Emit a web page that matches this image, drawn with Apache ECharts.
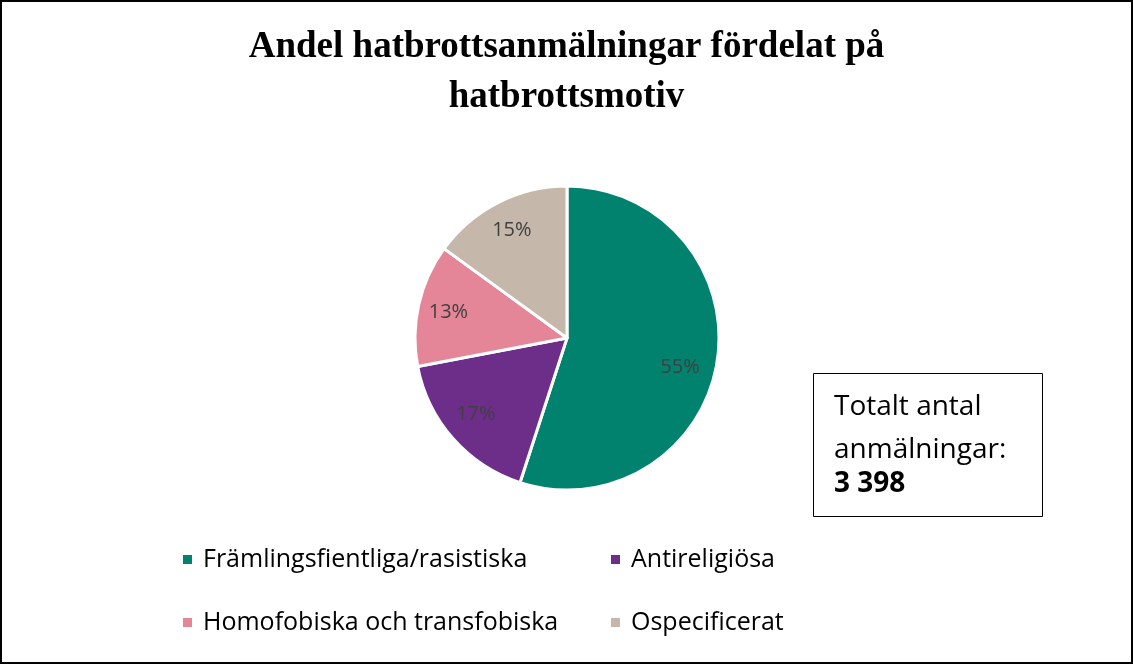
<!DOCTYPE html>
<html>
<head>
<meta charset="utf-8">
<script src="https://cdn.jsdelivr.net/npm/echarts@6/dist/echarts.min.js"></script>
<style>
html,body{margin:0;padding:0;background:#fff;}
#chart{width:1133px;height:664px;}
</style>
</head>
<body>
<div id="chart"></div>
<script>
const categories = ['Främlingsfientliga/rasistiska', 'Antireligiösa', 'Homofobiska och transfobiska', 'Ospecificerat'];
const shares = [55, 17, 13, 15];
const colors = ['#00826E', '#6D2E8A', '#E48697', '#C5B8AA'];
const titleText = 'Andel hatbrottsanmälningar fördelat på\nhatbrottsmotiv';
const boxLines = ['Totalt antal', 'anmälningar:', '3 398'];

const chart = echarts.init(document.getElementById('chart'));
const pieData = categories.map((c, i) => ({ name: c, value: shares[i], itemStyle: { color: colors[i] } }));
const labelOffsets = [[-7, 10], [0, -4], [0, 1], [0, 1]];
const legendItem = i => ({ name: categories[i], itemStyle: { color: colors[i] } });
const legendCommon = {
  orient: 'vertical',
  itemWidth: 11, itemHeight: 11,
  itemGap: 38,
  icon: 'rect',
  textStyle: { fontFamily: 'Open Sans', fontSize: 25, color: '#000', padding: [0, 0, 0, 5] },
  selectedMode: false
};
chart.setOption({
  animation: false,
  backgroundColor: '#fff',
  title: {
    text: titleText,
    left: 'center',
    top: 17,
    textStyle: { fontFamily: 'Liberation Serif', fontSize: 37, fontWeight: 'bold', color: '#000', lineHeight: 50 }
  },
  legend: [
    Object.assign({ left: 176, top: 542, data: [legendItem(0), legendItem(2)] }, legendCommon),
    Object.assign({ left: 604, top: 542, data: [legendItem(1), legendItem(3)] }, legendCommon)
  ],
  series: [
    {
      type: 'pie',
      center: [567, 338],
      radius: [0, 152],
      startAngle: 90,
      clockwise: true,
      data: pieData,
      itemStyle: { borderColor: '#fff', borderWidth: 3 },
      label: { show: false },
      labelLine: { show: false },
      silent: true
    },
    {
      type: 'pie',
      center: [567, 338],
      radius: [85, 152],
      startAngle: 90,
      clockwise: true,
      data: categories.map((c, i) => ({ name: c, value: shares[i], label: { offset: labelOffsets[i] } })),
      itemStyle: { color: 'rgba(0,0,0,0)', borderWidth: 0 },
      label: {
        show: true,
        position: 'inside',
        formatter: '{c}%',
        fontFamily: 'Open Sans',
        fontSize: 20,
        color: '#404040'
      },
      labelLine: { show: false },
      silent: true
    }
  ],
  graphic: [
    { type: 'rect', shape: { x: 1, y: 1, width: 1131, height: 662 }, style: { fill: 'none', stroke: '#000', lineWidth: 2 } },
    { type: 'rect', shape: { x: 813.5, y: 373.5, width: 229, height: 143 }, style: { fill: '#fff', stroke: '#000', lineWidth: 1 } },
    { type: 'text', left: 834, top: 393, style: { text: boxLines[0], font: '28px "Open Sans"', fill: '#000' } },
    { type: 'text', left: 834, top: 436, style: { text: boxLines[1], font: '28px "Open Sans"', fill: '#000' } },
    { type: 'text', left: 834, top: 470, style: { text: boxLines[2], font: 'bold 28px "Open Sans"', fill: '#000' } }
  ]
});
</script>
</body>
</html>
